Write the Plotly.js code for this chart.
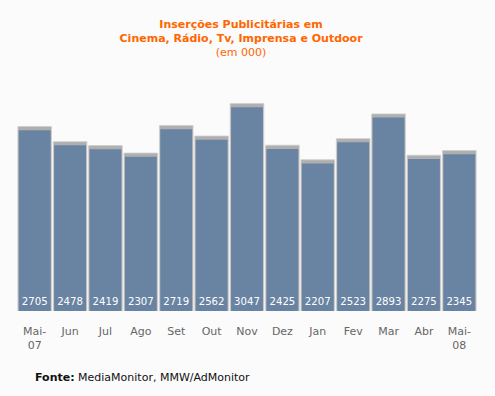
<!DOCTYPE html>
<html><head><meta charset="utf-8">
<script src="https://cdn.plot.ly/plotly-3.0.1.min.js"></script>
<style>html,body{margin:0;padding:0;background:#fbfbfb;}</style>
</head><body><div id="chart" style="width:495px;height:396px;"></div>
<script>
const categories = ["Mai-07","Jun","Jul","Ago","Set","Out","Nov","Dez","Jan","Fev","Mar","Abr","Mai-08"];
const tickLabels = ["Mai-<br>07","Jun","Jul","Ago","Set","Out","Nov","Dez","Jan","Fev","Mar","Abr","Mai-<br>08"];
const values = [2705,2478,2419,2307,2719,2562,3047,2425,2207,2523,2893,2275,2345];

const fontFam = "Verdana, 'DejaVu Sans', sans-serif";
const shadowPad = 55;

const shadow = {
  type: 'bar', x: categories, y: values.map(v => v + shadowPad),
  width: 0.95,
  marker: {color: 'rgba(125,125,125,0.6)', line: {width: 1, color: 'rgba(205,205,205,0.8)'}},
  hoverinfo: 'skip', showlegend: false
};
const bars = {
  type: 'bar', x: categories, y: values,
  width: 0.9,
  marker: {color: '#6983a2', line: {width: 0}},
  text: values.map(String), textposition: 'inside', insidetextanchor: 'start',
  textangle: 0,
  textfont: {color: '#ffffff', size: 11, family: fontFam},
  showlegend: false
};

const layout = {
  width: 495, height: 396,
  paper_bgcolor: '#fbfbfb', plot_bgcolor: '#fbfbfb',
  margin: {l: 17, r: 18, t: 96, b: 85},
  barmode: 'overlay',
  title: {
    text: "<b>Inserções Publicitárias em<br>Cinema, Rádio, Tv, Imprensa e Outdoor</b><br>(em 000)",
    font: {family: fontFam, size: 11, color: '#ff6600'},
    x: 0.487, xanchor: 'center', y: 0.93, yanchor: 'top'
  },
  xaxis: {
    type: 'category', tickvals: categories, ticktext: tickLabels,
    showgrid: false, zeroline: false, showline: false, ticks: '',
    ticklabelstandoff: 12,
    tickfont: {family: fontFam, size: 11, color: '#666666'},
    range: [-0.5, 12.5], fixedrange: true
  },
  yaxis: {
    range: [0, 3216], visible: false, showgrid: false, zeroline: false, fixedrange: true
  },
  annotations: [{
    text: "<b>Fonte:</b> MediaMonitor, MMW/AdMonitor",
    xref: 'paper', yref: 'paper', x: (33 - 17) / 460, y: -(376 - 311 - 7) / 215,
    xanchor: 'left', yanchor: 'top', showarrow: false,
    font: {family: fontFam, size: 11, color: '#111111'}
  }]
};

Plotly.newPlot('chart', [shadow, bars], layout, {displayModeBar: false, staticPlot: true});
</script></body></html>
